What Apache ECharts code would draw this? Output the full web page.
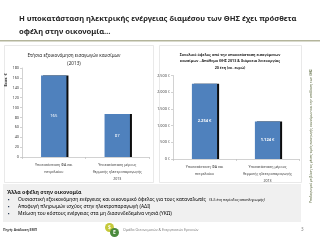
<!DOCTYPE html>
<html><head><meta charset="utf-8">
<script src="https://cdn.jsdelivr.net/npm/echarts@6/dist/echarts.min.js"></script>
<style>html,body{margin:0;padding:0;background:#fff}#c{width:320px;height:240px}</style>
</head><body><div id="c"></div>
<script>
const categories = ['Υποκατάσταση ΦΑ και\nπετρελαίου', 'Υποκατάσταση μέρους\nθερμικής ηλεκτροπαραγωγής\n2013'];
const annualSavings = [165, 87];
const totalBenefit = [2254, 1124];
const leftTicks = {min: 0, max: 180, interval: 20};
const rightTicks = {min: 0, max: 2500, interval: 500};
const slideTitle = 'Η υποκατάσταση ηλεκτρικής ενέργειας διαμέσου των ΘΗΣ έχει πρόσθετα\nοφέλη στην οικονομία…';
const leftTitle = 'Ετήσια εξοικονόμηση εισαγωγών καυσίμων\n(2013)';
const rightTitle = 'Συνολικό όφελος από την υποκατάσταση εισαγόμενων\nκαυσίμων - Απόθεμα ΘΗΣ 2013 & διάρκεια λειτουργίας\n20 έτη (εκ. ευρώ)';
const leftUnit = 'Εκατ. €';
const otherHeader = 'Άλλα οφέλη στην οικονομία';
const bullets = [
  ['Ουσιαστική εξοικονόμηση ενέργειας και οικονομικό όφελος για τους καταναλωτές', '(3-5 έτη περίοδος αποπληρωμής)'],
  ['Αποφυγή πληρωμών ισχύος στην ηλεκτροπαραγωγή (ΑΔΙ)', ''],
  ['Μείωση του κόστους ενέργειας στα μη διασυνδεδεμένα νησιά (ΥΚΩ)', '']
];
const sourceText = 'Πηγή: Ανάλυση ΕΜΠ';
const footerText = 'Ομάδα Οικονομικών & Ενεργειακών Ερευνών';
const pageNum = '3';
const sideNote = 'Υπολογισμοί με βάση τις μέσες τιμές εισαγωγής καυσίμων και την απόδοση των ΘΗΣ';

const F = 'Noto Sans';
const euro = v => String(v).replace(/\B(?=(\d{3})+(?!\d))/g, '.') + ' €';
const chart = echarts.init(document.getElementById('c'), null, {renderer: 'canvas'});

const barStyle = {color: '#4f81bd', shadowColor: 'rgba(0,0,0,0.95)', shadowBlur: 0, shadowOffsetX: 2, shadowOffsetY: 0};
const catAxis = (gi) => ({
  type: 'category', gridIndex: gi, data: categories,
  axisLine: {lineStyle: {color: '#bfbfbf', width: 0.7}},
  axisTick: {show: true, length: 2, lineStyle: {color: '#bfbfbf', width: 0.7}},
  axisLabel: {fontFamily: F, fontSize: 3.6, color: '#404040', lineHeight: 7, margin: 4, interval: 0}
});
const valAxis = (gi, t, fmt) => ({
  type: 'value', gridIndex: gi, min: t.min, max: t.max, interval: t.interval,
  splitLine: {show: false},
  axisLine: {show: true, lineStyle: {color: '#bfbfbf', width: 0.7}},
  axisTick: {show: true, length: 2, lineStyle: {color: '#bfbfbf', width: 0.7}},
  axisLabel: {fontFamily: F, fontSize: 3.8, color: '#404040', margin: 3, formatter: fmt}
});

const graphics = [
  {type: 'text', left: 19, top: 12.5, style: {text: slideTitle, font: 'bold 7.6px "' + F + '"', fill: '#262626', lineHeight: 13}},
  {type: 'rect', shape: {x: 0, y: 40, width: 320, height: 1.6}, style: {fill: '#b4b59c'}},
  {type: 'rect', shape: {x: 4.5, y: 45.5, width: 149, height: 137}, style: {fill: 'none', stroke: '#e3e3e3', lineWidth: 0.8}},
  {type: 'rect', shape: {x: 159.5, y: 45.5, width: 142, height: 137}, style: {fill: 'none', stroke: '#e3e3e3', lineWidth: 0.8}},
  {type: 'text', x: 74, y: 51, style: {text: leftTitle, font: '4.6px "' + F + '"', fill: '#262626', align: 'center', lineHeight: 8.5}},
  {type: 'text', x: 230, y: 51.5, style: {text: rightTitle, font: 'bold 3.7px "' + F + '"', fill: '#262626', align: 'center', lineHeight: 6.6}},
  {type: 'text', x: 6, y: 80, rotation: Math.PI / 2, style: {text: leftUnit, font: 'bold 3.8px "' + F + '"', fill: '#262626', align: 'center', verticalAlign: 'middle'}},
  {type: 'rect', shape: {x: 3, y: 184, width: 298, height: 38}, style: {fill: '#f0f0f0'}},
  {type: 'text', x: 7, y: 192, style: {text: otherHeader, font: 'bold 5.3px "' + F + '"', fill: '#1a1a1a', verticalAlign: 'middle'}}
];
bullets.forEach((b, i) => {
  const y = 199.5 + i * 7.2;
  graphics.push({type: 'text', x: 8, y: y, style: {text: '▪', font: '4.5px "' + F + '"', fill: '#1f2f4a', verticalAlign: 'middle'}});
  graphics.push({type: 'text', x: 18, y: y, style: {
    text: '{a|' + b[0] + '}' + (b[1] ? ' {b|' + b[1] + '}' : ''),
    verticalAlign: 'middle',
    rich: {a: {fontFamily: F, fontSize: 4.9, color: '#1f2f4a', verticalAlign: 'middle'}, b: {fontFamily: F, fontSize: 3.6, color: '#1f2f4a', verticalAlign: 'middle'}}
  }});
});
graphics.push(
  {type: 'text', x: 3, y: 229, style: {text: sourceText, font: 'bold 3.4px "' + F + '"', fill: '#404040'}},
  {type: 'circle', shape: {cx: 109.5, cy: 227.5, r: 4.5}, style: {fill: '#c5c93a'}},
  {type: 'circle', shape: {cx: 114.5, cy: 232.5, r: 4.5}, style: {fill: '#4a8a3c'}},
  {type: 'text', x: 109.5, y: 227.5, style: {text: '$', font: 'bold 5px "' + F + '"', fill: '#fff', align: 'center', verticalAlign: 'middle'}},
  {type: 'text', x: 114.5, y: 232.5, style: {text: 'E', font: 'bold 5px "' + F + '"', fill: '#fff', align: 'center', verticalAlign: 'middle'}},
  {type: 'text', x: 123, y: 227.5, style: {text: footerText, font: '3.6px "' + F + '"', fill: '#7f7f7f'}},
  {type: 'text', x: 301, y: 227, style: {text: pageNum, font: '4.5px "' + F + '"', fill: '#7f7f7f'}},
  {type: 'text', x: 311, y: 136, rotation: Math.PI / 2, style: {text: sideNote, font: '3.4px "' + F + '"', fill: '#4b5a2a', align: 'center', verticalAlign: 'middle'}}
);

chart.setOption({
  animation: false,
  textStyle: {fontFamily: F},
  grid: [
    {left: 22, right: 320 - 149, top: 68, bottom: 240 - 157},
    {left: 173, right: 320 - 299, top: 75.5, bottom: 240 - 159}
  ],
  xAxis: [catAxis(0), catAxis(1)],
  yAxis: [valAxis(0, leftTicks, v => v), valAxis(1, rightTicks, euro)],
  series: [
    {type: 'bar', xAxisIndex: 0, yAxisIndex: 0, data: annualSavings, barWidth: '40%', itemStyle: barStyle,
     label: {show: true, position: 'inside', color: '#fff', fontFamily: F, fontSize: 4.2}},
    {type: 'bar', xAxisIndex: 1, yAxisIndex: 1, data: totalBenefit, barWidth: '40%', itemStyle: barStyle,
     label: {show: true, position: 'inside', color: '#fff', fontFamily: F, fontSize: 4, fontWeight: 'bold', formatter: p => euro(p.value)}}
  ],
  graphic: graphics
});
</script>
</body></html>
